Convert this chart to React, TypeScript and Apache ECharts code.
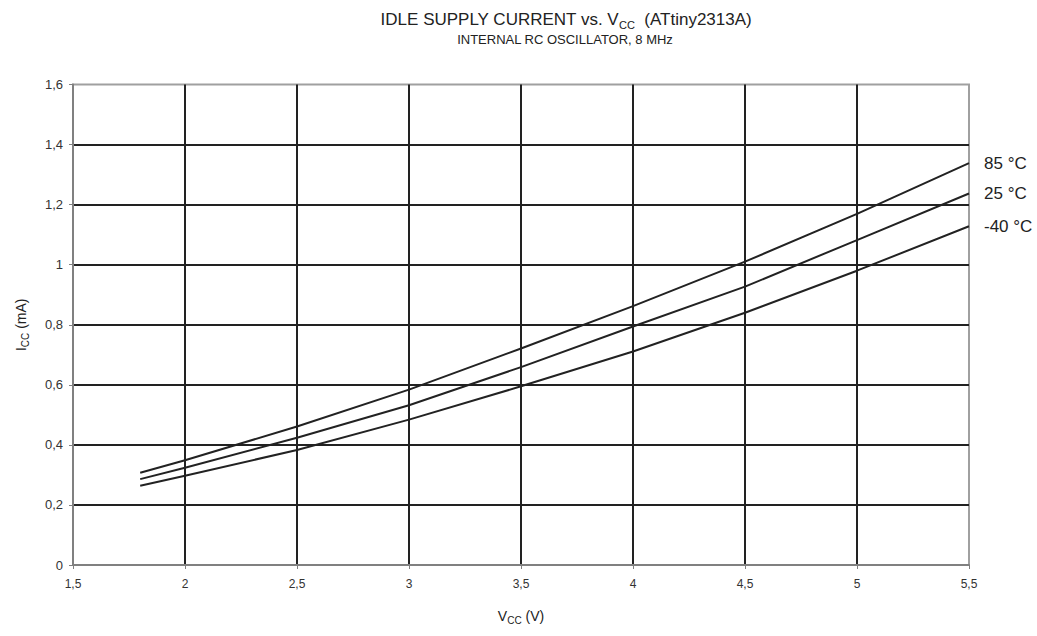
import React, { useEffect, useRef } from "react";
import * as echarts from "echarts";

const vcc = [1.8, 2.0, 2.5, 3.0, 3.5, 4.0, 4.5, 5.0, 5.5];
const icc85 = [0.307, 0.349, 0.461, 0.584, 0.721, 0.862, 1.01, 1.169, 1.338];
const icc25 = [0.286, 0.324, 0.424, 0.532, 0.659, 0.794, 0.927, 1.082, 1.237];
const iccM40 = [0.264, 0.297, 0.383, 0.484, 0.595, 0.711, 0.84, 0.98, 1.128];
const seriesNames = ["85 °C", "25 °C", "-40 °C"];
const seriesData = [icc85, icc25, iccM40];

const FONT = "Liberation Sans, Arial, sans-serif";

export default function App() {
  const ref = useRef<HTMLDivElement>(null);
  useEffect(() => {
    if (!ref.current) return;
    const chart = echarts.init(ref.current, undefined, { renderer: "svg" });
    const fmt = (v: number) => String(v).replace(".", ",");
    const txt = (size: number, lh: number) => ({
      fontSize: size,
      color: "#222",
      fontFamily: FONT,
      fontWeight: "normal",
      lineHeight: lh,
      verticalAlign: "middle",
    });
    const sub = (size: number, lh: number) => ({
      fontSize: size,
      color: "#222",
      fontFamily: FONT,
      fontWeight: "normal",
      lineHeight: lh,
      verticalAlign: "bottom",
    });
    chart.setOption({
      animation: false,
      backgroundColor: "#ffffff",
      textStyle: { fontFamily: FONT },
      title: [
        {
          text: "{a|IDLE SUPPLY CURRENT vs. V}{s|CC}{a|  (ATtiny2313A)}",
          left: 561,
          top: 3,
          textAlign: "center",
          textStyle: {
            fontWeight: "normal",
            rich: { a: txt(17, 22), s: sub(11, 12) },
          },
        },
        {
          text: "INTERNAL RC OSCILLATOR, 8 MHz",
          left: 560,
          top: 28,
          textAlign: "center",
          textStyle: { fontSize: 13, color: "#222", fontWeight: "normal", fontFamily: FONT },
        },
      ],
      grid: {
        left: 73,
        right: 68,
        top: 84.5,
        bottom: 71,
        show: true,
        borderColor: "#a0a0a0",
        borderWidth: 2,
        containLabel: false,
      },
      xAxis: {
        type: "value",
        min: 1.5,
        max: 5.5,
        interval: 0.5,
        name: "{a|V}{s|CC}{a| (V)}",
        nameLocation: "middle",
        nameGap: 42,
        nameTextStyle: { rich: { a: txt(14, 18), s: sub(10, 10) } },
        axisLine: { show: true, lineStyle: { color: "#808080", width: 2 } },
        axisTick: { show: true, length: 4, lineStyle: { color: "#808080", width: 1 } },
        axisLabel: { formatter: fmt, fontSize: 12, color: "#333", margin: 13, fontFamily: FONT },
        splitLine: { show: true, showMinLine: false, showMaxLine: false, lineStyle: { color: "#222", width: 2 } },
      },
      yAxis: {
        type: "value",
        min: 0,
        max: 1.6,
        interval: 0.2,
        name: "{a|I}{s|CC}{a| (mA)}",
        nameLocation: "middle",
        nameRotate: 90,
        nameGap: 43,
        nameTextStyle: { rich: { a: txt(14, 18), s: sub(10, 10) } },
        axisLine: { show: true, lineStyle: { color: "#808080", width: 2 } },
        axisTick: { show: true, length: 4, lineStyle: { color: "#808080", width: 1 } },
        axisLabel: { formatter: fmt, fontSize: 13, color: "#333", margin: 10, fontFamily: FONT },
        splitLine: { show: true, showMinLine: false, showMaxLine: false, lineStyle: { color: "#222", width: 2 } },
      },
      series: seriesNames.map((name, i) => ({
        name,
        type: "line",
        data: vcc.map((v, j) => [v, seriesData[i][j]]),
        showSymbol: false,
        symbol: "none",
        lineStyle: { color: "#222", width: 2 },
        z: 5,
        endLabel: {
          show: true,
          formatter: name,
          distance: 15,
          fontSize: 17,
          color: "#222",
          fontFamily: FONT,
        },
      })),
    });
    return () => chart.dispose();
  }, []);
  return (
    <div
      ref={ref}
      style={{ position: "fixed", left: 0, top: 0, width: 1037, height: 636 }}
    />
  );
}
